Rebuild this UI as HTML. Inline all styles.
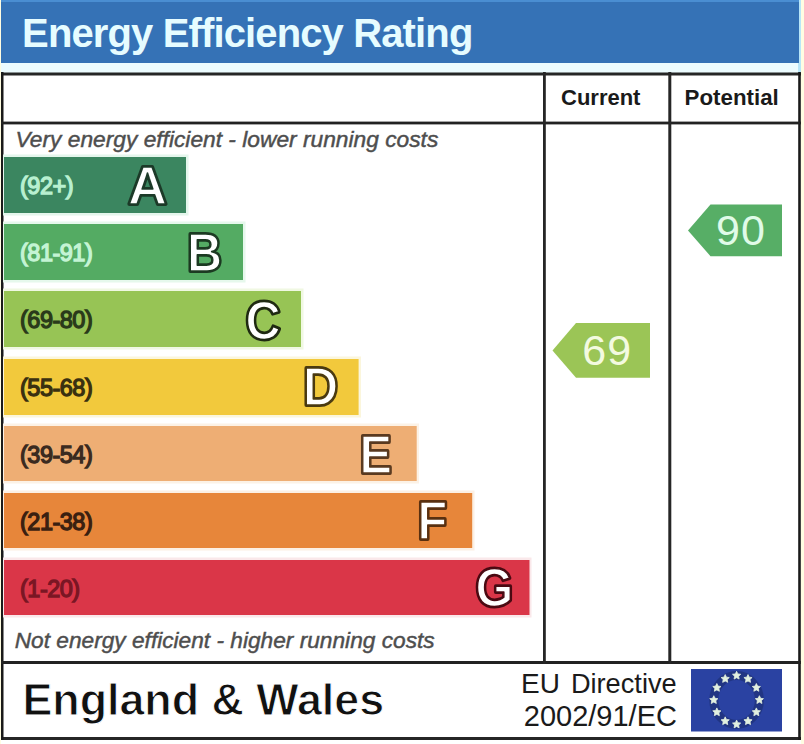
<!DOCTYPE html>
<html><head><meta charset="utf-8">
<style>
html,body{margin:0;padding:0;background:#fff;width:804px;height:744px;overflow:hidden}
svg{position:absolute;left:0;top:0;display:block}
text{font-family:"Liberation Sans",sans-serif}
</style></head>
<body>
<svg width="804" height="744" viewBox="0 0 804 744">
  <!-- page background -->
  <rect x="0" y="0" width="804" height="744" fill="#ffffff"/>
  <rect x="0" y="0" width="1" height="744" fill="#fffde2"/>
  <rect x="801" y="0" width="3" height="744" fill="#fffde2"/>
  <!-- light cyan area under header -->
  <rect x="1" y="63" width="800" height="10" fill="#ecfcff"/>
  <rect x="798" y="0" width="3" height="73" fill="#b8e6f8"/>
  <!-- header -->
  <rect x="1" y="0" width="798" height="63" fill="#3572b6"/>
  <rect x="1" y="0" width="798" height="2" fill="#4a8ed2"/>
  <text x="22.1" y="46.6" font-size="40" font-weight="bold" fill="#e6fcff" letter-spacing="-0.87">Energy Efficiency Rating</text>

  <!-- frame -->
  <rect x="1" y="72.5" width="800" height="3" fill="#262626"/>
  <rect x="1" y="737" width="800" height="3" fill="#262626"/>
  <rect x="1" y="72" width="2.5" height="668" fill="#1a1a1a"/>
  <rect x="798.2" y="72" width="2.6" height="668" fill="#1a1a1a"/>
  <rect x="1" y="121.6" width="800" height="2.8" fill="#222"/>
  <rect x="1" y="661" width="800" height="3" fill="#222"/>
  <rect x="543" y="72" width="2.8" height="592" fill="#262626"/>
  <rect x="668.3" y="72" width="3" height="592" fill="#262626"/>

  <text x="561" y="104.6" font-size="22" font-weight="bold" fill="#1a1a1a">Current</text>
  <text x="684.6" y="104.6" font-size="22.3" font-weight="bold" fill="#1a1a1a">Potential</text>

  <text x="15.5" y="147.4" font-size="22.75" font-style="italic" fill="#4e4e4e" stroke="#4e4e4e" stroke-width="0.45">Very energy efficient - lower running costs</text>
  <text x="14.7" y="647.6" font-size="22.7" font-style="italic" fill="#4e4e4e" stroke="#4e4e4e" stroke-width="0.45">Not energy efficient - higher running costs</text>

  <!-- halos -->
  <g>
  <rect x="3" y="154.5" width="185.5" height="61" fill="#e4f6ec"/>
  <rect x="3" y="221.5" width="242.5" height="61" fill="#e6f8ec"/>
  <rect x="3" y="288.5" width="300.5" height="61" fill="#f0f8e2"/>
  <rect x="3" y="356.5" width="358" height="61" fill="#fbf6dc"/>
  <rect x="3" y="423.5" width="416" height="60" fill="#fcf2e6"/>
  <rect x="3" y="490.5" width="471.5" height="60" fill="#fcf0e4"/>
  <rect x="3" y="557.5" width="528.5" height="60" fill="#fae8ea"/>
  </g>
  <!-- bands -->
  <rect x="4" y="157" width="182" height="56" fill="#3b8660"/>
  <rect x="4" y="224" width="239" height="56" fill="#54ab63"/>
  <rect x="4" y="291" width="297" height="56" fill="#97c455"/>
  <rect x="4" y="359" width="354.6" height="56" fill="#f2c93c"/>
  <rect x="4" y="426" width="412.7" height="55" fill="#eeae74"/>
  <rect x="4" y="493" width="468.2" height="55" fill="#e7863a"/>
  <rect x="4" y="560" width="525.5" height="55" fill="#da3648"/>

  <g font-size="23.5" stroke-width="1.3" letter-spacing="-0.5">
    <text x="20" y="194" fill="#b8f0d0" stroke="#b8f0d0">(92+)</text>
    <text x="20" y="260.5" fill="#c4f4d4" stroke="#c4f4d4">(81-91)</text>
    <text x="20" y="327.5" fill="#2a3a1a" stroke="#2a3a1a">(69-80)</text>
    <text x="20" y="395.5" fill="#3a3010" stroke="#3a3010">(55-68)</text>
    <text x="20" y="462.5" fill="#3a2a20" stroke="#3a2a20">(39-54)</text>
    <text x="20" y="529.5" fill="#3a2010" stroke="#3a2010">(21-38)</text>
    <text x="20" y="596.5" fill="#7a1624" stroke="#7a1624">(1-20)</text>
  </g>

  <g font-size="54" font-weight="bold" fill="#ffffff" stroke-width="4" stroke-linejoin="round" paint-order="stroke">
    <text transform="translate(128,203.5) scale(1,1)" stroke="#1c3a28">A</text>
    <text transform="translate(187,270.8) scale(0.9,1)" stroke="#1c3a22">B</text>
    <text transform="translate(245.5,338.5) scale(0.9,1)" stroke="#1f2a12">C</text>
    <text transform="translate(303,405.2) scale(0.9,1)" stroke="#4a3a10">D</text>
    <text transform="translate(359.5,472.6) scale(0.9,1)" stroke="#5a3a20">E</text>
    <text transform="translate(417.5,539.1) scale(0.9,1)" stroke="#5a3010">F</text>
    <text transform="translate(475.5,605.5) scale(0.9,1)" stroke="#4a0a12">G</text>
  </g>
  <g font-size="54" font-weight="bold" fill="none" stroke-width="1.6" stroke-linejoin="round">
    <text transform="translate(128,203.5) scale(1,1)" stroke="#1c3a28">A</text>
    <text transform="translate(187,270.8) scale(0.9,1)" stroke="#1c3a22">B</text>
    <text transform="translate(245.5,338.5) scale(0.9,1)" stroke="#1f2a12">C</text>
    <text transform="translate(303,405.2) scale(0.9,1)" stroke="#4a3a10">D</text>
    <text transform="translate(359.5,472.6) scale(0.9,1)" stroke="#5a3a20">E</text>
    <text transform="translate(417.5,539.1) scale(0.9,1)" stroke="#5a3010">F</text>
    <text transform="translate(475.5,605.5) scale(0.9,1)" stroke="#4a0a12">G</text>
  </g>

  <!-- arrows -->
  <polygon points="552.5,350.5 576,323 650,323 650,377.7 576,377.7" fill="#9bc556"/>
  <text x="582.2" y="365.4" font-size="43" letter-spacing="1.2" fill="#f3fae0">69</text>
  <polygon points="688,230.5 710.5,204.5 782,204.5 782,256.2 710.5,256.2" fill="#57ae66"/>
  <text x="716" y="245.4" font-size="43" letter-spacing="1.2" fill="#e0fbe8">90</text>

  <!-- footer -->
  <text x="22.4" y="714.8" font-size="44.8" font-weight="bold" fill="#111" stroke="#fff" stroke-width="1">England &amp; Wales</text>
  <text x="521" y="693.2" font-size="28" fill="#1a1a1a">EU</text><text x="570.9" y="693.2" font-size="27.2" fill="#1a1a1a">Directive</text>
  <text x="523.8" y="725.5" font-size="29" fill="#1a1a1a">2002/91/EC</text>
  <rect x="691" y="669" width="91" height="62.5" fill="#2a42a2"/>
  <ellipse cx="736.6" cy="700" rx="22.8" ry="24.4" fill="none" stroke="#1a2c6a" stroke-width="9" opacity="0.55"/>
  <g id="stars" fill="#e2f0e0" stroke="#e2f0e0" stroke-width="0.8" stroke-linejoin="round"><polygon points="736.60,671.30 737.83,673.90 740.69,674.27 738.60,676.25 739.13,679.08 736.60,677.70 734.07,679.08 734.60,676.25 732.51,674.27 735.37,673.90"/><polygon points="748.00,674.57 749.23,677.17 752.09,677.54 750.00,679.52 750.53,682.35 748.00,680.97 745.47,682.35 746.00,679.52 743.91,677.54 746.77,677.17"/><polygon points="756.35,683.50 757.58,686.10 760.43,686.47 758.34,688.45 758.87,691.28 756.35,689.90 753.82,691.28 754.35,688.45 752.26,686.47 755.11,686.10"/><polygon points="759.40,695.70 760.63,698.30 763.49,698.67 761.40,700.65 761.93,703.48 759.40,702.10 756.87,703.48 757.40,700.65 755.31,698.67 758.17,698.30"/><polygon points="756.35,707.90 757.58,710.50 760.43,710.87 758.34,712.85 758.87,715.68 756.35,714.30 753.82,715.68 754.35,712.85 752.26,710.87 755.11,710.50"/><polygon points="748.00,716.83 749.23,719.43 752.09,719.80 750.00,721.78 750.53,724.61 748.00,723.23 745.47,724.61 746.00,721.78 743.91,719.80 746.77,719.43"/><polygon points="736.60,720.10 737.83,722.70 740.69,723.07 738.60,725.05 739.13,727.88 736.60,726.50 734.07,727.88 734.60,725.05 732.51,723.07 735.37,722.70"/><polygon points="725.20,716.83 726.43,719.43 729.29,719.80 727.20,721.78 727.73,724.61 725.20,723.23 722.67,724.61 723.20,721.78 721.11,719.80 723.97,719.43"/><polygon points="716.85,707.90 718.09,710.50 720.94,710.87 718.85,712.85 719.38,715.68 716.85,714.30 714.33,715.68 714.86,712.85 712.77,710.87 715.62,710.50"/><polygon points="713.80,695.70 715.03,698.30 717.89,698.67 715.80,700.65 716.33,703.48 713.80,702.10 711.27,703.48 711.80,700.65 709.71,698.67 712.57,698.30"/><polygon points="716.85,683.50 718.09,686.10 720.94,686.47 718.85,688.45 719.38,691.28 716.85,689.90 714.33,691.28 714.86,688.45 712.77,686.47 715.62,686.10"/><polygon points="725.20,674.57 726.43,677.17 729.29,677.54 727.20,679.52 727.73,682.35 725.20,680.97 722.67,682.35 723.20,679.52 721.11,677.54 723.97,677.17"/></g>
</svg>
</body></html>
